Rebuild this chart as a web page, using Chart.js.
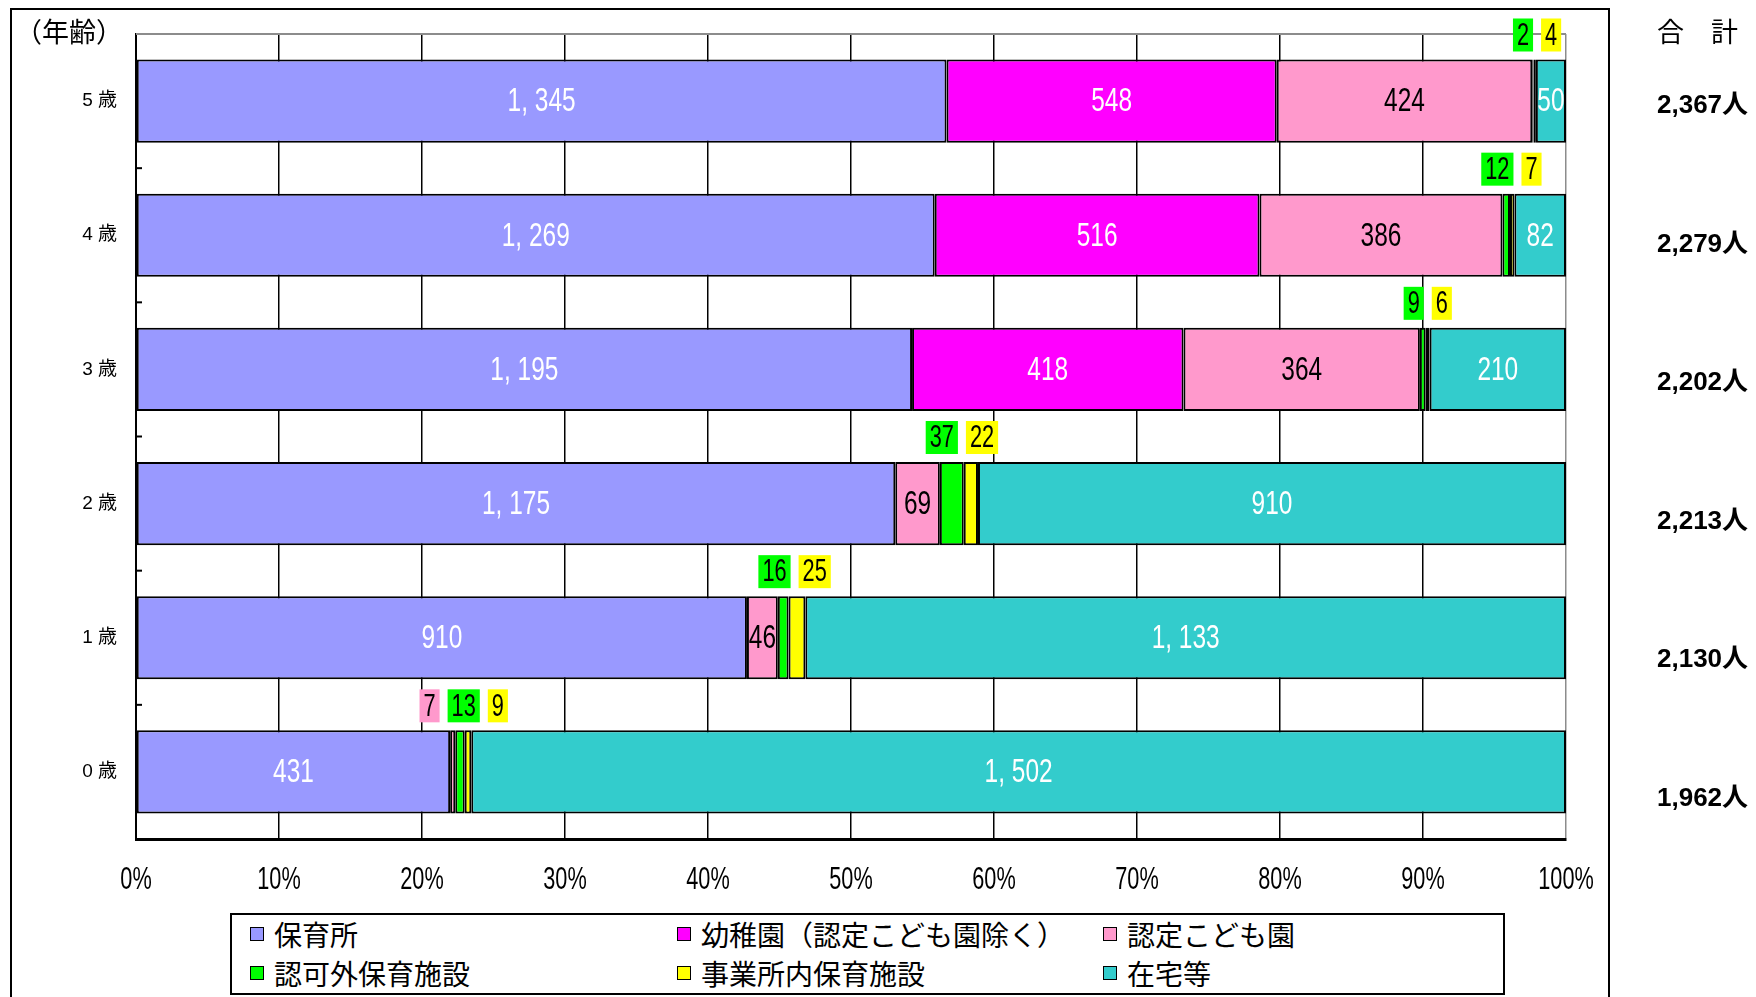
<!DOCTYPE html>
<html><head><meta charset="utf-8">
<script src="https://cdn.jsdelivr.net/npm/chart.js@4.4.1/dist/chart.umd.min.js"></script>
<style>
html,body{margin:0;padding:0;background:#fff;}
#wrap{position:relative;width:1756px;height:997px;overflow:hidden;}
#frame{position:absolute;left:10px;top:8px;width:1600px;height:1010px;border:2px solid #000;box-sizing:border-box;}
canvas{position:absolute;left:0;top:0;}
.txt{position:absolute;font-family:"Noto Sans CJK JP",sans-serif;color:#000;white-space:nowrap;line-height:1;}
#legend{position:absolute;left:230px;top:913px;width:1275px;height:82px;border:2px solid #000;box-sizing:border-box;background:#fff;}
.item{position:absolute;display:flex;align-items:center;font-family:"Noto Sans CJK JP",sans-serif;font-size:28px;line-height:1;transform:translateY(-50%);}
.sw{width:12px;height:12px;border:1.5px solid #000;margin-right:10px;}
</style>
</head><body>
<div id="wrap">
<div id="frame"></div>
<canvas id="c" width="1756" height="997"></canvas>
<div class="txt" style="left:15px;top:17px;font-size:27px;">（年齢）</div>
<div class="txt" style="left:1657px;top:17px;font-size:27px;">合　計</div>
<div id="legend"></div>
</div>
<script>
// ---- data ----
const ages = ['5 歳','4 歳','3 歳','2 歳','1 歳','0 歳'];
const seriesNames = ['保育所','幼稚園（認定こども園除く）','認定こども園','認可外保育施設','事業所内保育施設','在宅等'];
const seriesColors = ['#9999FF','#FF00FF','#FF99CC','#00FF00','#FFFF00','#33CCCC'];
const labelColors = ['#FFFFFF','#FFFFFF','#000000','#000000','#000000','#FFFFFF'];
const hoikusho = [1345,1269,1195,1175,910,431];
const youchien = [548,516,418,0,0,0];
const nintei   = [424,386,364,69,46,7];
const ninkagai = [2,12,9,37,16,13];
const jigyosho = [4,7,6,22,25,9];
const zaitaku  = [50,82,210,910,1133,1502];
const totals   = [2367,2279,2202,2213,2130,1962];
const xTickValues = [0,10,20,30,40,50,60,70,80,90,100];
const xTickLabels = ['0%','10%','20%','30%','40%','50%','60%','70%','80%','90%','100%'];

const series = [hoikusho,youchien,nintei,ninkagai,jigyosho,zaitaku];
const rowSums = ages.map((_,j)=>series.reduce((s,a)=>s+a[j],0));
const SANS = "'Liberation Sans',Arial,sans-serif";
const CJK_FONT = "'Liberation Sans','Noto Sans CJK JP',sans-serif";

function fmt(v){ return v>=1000 ? Math.floor(v/1000)+', '+String(v%1000).padStart(3,'0') : String(v); }
function isOutside(i,v,j){ return i===3 || i===4 || (v/rowSums[j]*100 < 1); }
function narrowWidth(ctx,t,sx){ return ctx.measureText(t).width*sx; }
function drawNarrow(ctx,t,x,y,sx){ ctx.save(); ctx.translate(x,y); ctx.scale(sx,1); ctx.fillText(t,0,0); ctx.restore(); }

// legend (HTML)
const lg = document.getElementById('legend');
const colLeft=[18,445,871], rowTop=[19,58];
seriesNames.forEach((n,i)=>{
  const d=document.createElement('div'); d.className='item';
  d.style.left=colLeft[i%3]+'px'; d.style.top=rowTop[Math.floor(i/3)]+'px';
  d.innerHTML='<span class="sw" style="background:'+seriesColors[i]+'"></span><span>'+n+'</span>';
  lg.appendChild(d);
});

const datasets = series.map((arr,i)=>({
  label: seriesNames[i],
  data: arr.map((v,j)=> v>0 ? v/rowSums[j]*100 : null),
  raw: arr,
  backgroundColor: seriesColors[i],
  borderColor:'#000', borderWidth:2, borderSkipped:false,
  barPercentage:0.62, categoryPercentage:1
}));

const labelPlugin = {
  id:'labels',
  afterDatasetsDraw(chart){
    const ctx=chart.ctx;
    const a=chart.chartArea;
    const ys=chart.scales.y, xs=chart.scales.x;
    ctx.save();
    // top gray frame line of plot
    ctx.strokeStyle='#8c8c8c'; ctx.lineWidth=2;
    ctx.beginPath(); ctx.moveTo(a.left,a.top); ctx.lineTo(a.right,a.top); ctx.stroke();
    // small inner ticks at category boundaries
    ctx.strokeStyle='#000'; ctx.lineWidth=2;
    for(let j=0;j<ages.length-1;j++){
      const yb=(ys.getPixelForValue(j)+ys.getPixelForValue(j+1))/2;
      ctx.beginPath(); ctx.moveTo(a.left,yb); ctx.lineTo(a.left+6,yb); ctx.stroke();
    }
    // x tick labels (condensed)
    ctx.textAlign='center'; ctx.textBaseline='middle'; ctx.fillStyle='#000';
    ctx.font='31px '+SANS;
    xTickValues.forEach((v,k)=> drawNarrow(ctx,xTickLabels[k],xs.getPixelForValue(v),880,0.7));

    ages.forEach((_,j)=>{
      const outs=[];
      let barTop=null;
      chart.data.datasets.forEach((ds,i)=>{
        const v=ds.raw[j]; if(!v) return;
        const el=chart.getDatasetMeta(i).data[j];
        const p=el.getProps(['x','y','base','height'],true);
        barTop=p.y-p.height/2;
        if(isOutside(i,v,j)){ outs.push({i,v,s:Math.min(p.x,p.base),e:Math.max(p.x,p.base)}); }
        else{
          ctx.font='34px '+SANS; ctx.fillStyle=labelColors[i];
          drawNarrow(ctx,fmt(v),(p.x+p.base)/2,p.y+1,0.72);
        }
      });
      if(outs.length){
        ctx.font='32px '+SANS;
        const gap=8, sx=0.68;
        const ws=outs.map(o=>narrowWidth(ctx,String(o.v),sx)+8);
        const tot=ws.reduce((s,w)=>s+w,0)+gap*(outs.length-1);
        const gc=(outs[0].s+outs[outs.length-1].e)/2;
        let x=gc-tot/2+3;
        const bh=33, by=barTop-8-bh;
        outs.forEach((o,k)=>{
          ctx.fillStyle=seriesColors[o.i];
          ctx.fillRect(x,by,ws[k],bh);
          ctx.fillStyle='#000';
          drawNarrow(ctx,String(o.v),x+ws[k]/2,by+bh/2+1,sx);
          x+=ws[k]+gap;
        });
      }
      // totals
      const yc=ys.getPixelForValue(j);
      ctx.font='bold 26px '+CJK_FONT; ctx.textAlign='left'; ctx.fillStyle='#000';
      ctx.fillText(totals[j].toLocaleString('en-US')+'人',1657,yc+5+4.3*j);
      ctx.textAlign='center';
    });
    ctx.restore();
  }
};

new Chart(document.getElementById('c'),{
  type:'bar',
  data:{labels:ages,datasets},
  options:{
    indexAxis:'y', responsive:false, animation:false, devicePixelRatio:1,
    layout:{padding:{left:0,top:34,right:190,bottom:98}},
    plugins:{legend:{display:false},tooltip:{enabled:false}},
    scales:{
      x:{stacked:true,min:0,max:100,
        afterBuildTicks(s){ s.ticks=xTickValues.map(v=>({value:v})); },
        afterFit(s){ s.height=60; },
        ticks:{display:false},
        grid:{color:(c)=>c.tick && c.tick.value===100?'#8c8c8c':'#000',lineWidth:1.5,drawTicks:false},
        border:{color:'#000',width:3}
      },
      y:{stacked:true,
        afterFit(s){ s.width=136; },
        ticks:{padding:11,color:'#000',font:{family:CJK_FONT,size:19}},
        grid:{display:false},
        border:{color:'#000',width:2}
      }
    }
  },
  plugins:[labelPlugin]
});
</script>
</body></html>
